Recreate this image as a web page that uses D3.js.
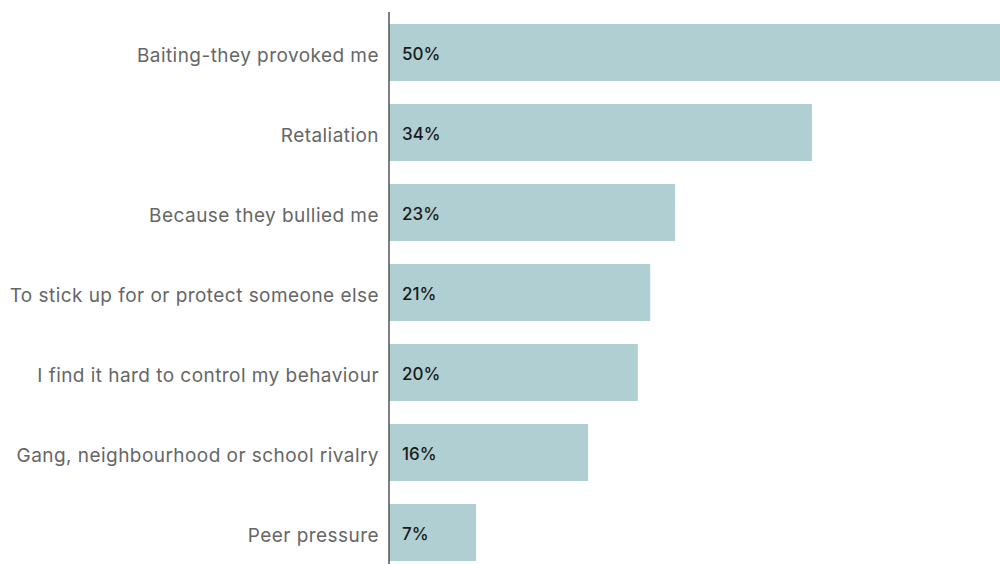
<!DOCTYPE html>
<html>
<head>
<meta charset="utf-8">
<script src="https://cdn.jsdelivr.net/npm/d3@7"></script>
<style>
  html, body { margin: 0; padding: 0; background: #fff; }
  svg { display: block; }
</style>
</head>
<body>
<svg id="chart" width="1000" height="564"></svg>
<script>
// Reasons given, share of respondents (%)
const categories = [
  "Baiting-they provoked me",
  "Retaliation",
  "Because they bullied me",
  "To stick up for or protect someone else",
  "I find it hard to control my behaviour",
  "Gang, neighbourhood or school rivalry",
  "Peer pressure"
];
const values = [50, 34, 23, 21, 20, 16, 7];
const valueLabels = ["50%", "34%", "23%", "21%", "20%", "16%", "7%"];

const svg = d3.select("#chart");
const W = 1000, H = 564;
const axisX = 389;

const x = d3.scaleLinear().domain([0, 50]).range([axisX, axisX + 622]);
const y = d3.scaleBand()
  .domain(categories)
  .range([12.5, 572.5])
  .paddingInner(0.2875)
  .paddingOuter(0.14375);

const rows = categories.map((c, i) => ({ c, v: values[i], label: valueLabels[i] }));

// bars
svg.append("g").selectAll("rect").data(rows).join("rect")
  .attr("x", x(0))
  .attr("y", d => y(d.c))
  .attr("width", d => x(d.v) - x(0))
  .attr("height", y.bandwidth())
  .attr("fill", "#b0cfd3");

// category labels
svg.append("g").selectAll("text").data(rows).join("text")
  .attr("x", axisX - 10)
  .attr("y", d => y(d.c) + y.bandwidth() / 2 + 3)
  .attr("dy", "0.35em")
  .attr("text-anchor", "end")
  .attr("font-family", "Inter, 'Open Sans', sans-serif")
  .attr("font-size", 19)
  .attr("letter-spacing", 0.45)
  .attr("fill", "#666")
  .text(d => d.c);

// value labels inside bars
svg.append("g").selectAll("text").data(rows).join("text")
  .attr("x", x(0) + 13)
  .attr("y", d => y(d.c) + y.bandwidth() / 2 + 2)
  .attr("dy", "0.35em")
  .attr("font-family", "Inter, 'Open Sans', sans-serif")
  .attr("font-size", 17)
  .attr("font-weight", 500)
  .attr("fill", "#1a1a1a")
  .text(d => d.label);

// vertical axis line
svg.append("line")
  .attr("x1", axisX).attr("x2", axisX)
  .attr("y1", 12).attr("y2", H)
  .attr("stroke", "#555")
  .attr("stroke-width", 1.5);
</script>
</body>
</html>
